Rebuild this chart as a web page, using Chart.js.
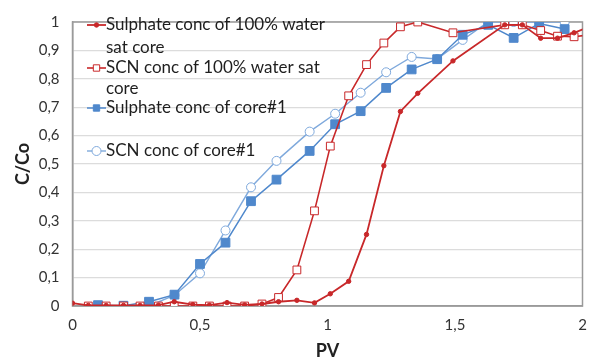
<!DOCTYPE html>
<html>
<head>
<meta charset="utf-8">
<script src="https://cdn.jsdelivr.net/npm/chart.js@4/dist/chart.umd.min.js"></script>
<style>
  html, body { margin: 0; padding: 0; background: #fff; }
  #wrap { width: 590px; height: 362px; }
</style>
</head>
<body>
<div id="wrap"><canvas id="chart" width="590" height="362"></canvas></div>
<script>
// PV values and C/Co readings
const pvSulphate100 = [0, 0.062, 0.132, 0.2, 0.265, 0.337, 0.399, 0.472, 0.537, 0.606, 0.675, 0.743, 0.808, 0.88, 0.949, 1.011, 1.083, 1.153, 1.221, 1.286, 1.354, 1.492, 1.695, 1.764, 1.836, 1.902, 1.967, 2.03];
const sulphate100 = [0.01, 0.002, 0.002, 0.002, 0.002, 0.003, 0.015, 0.005, 0.003, 0.012, 0.004, 0.007, 0.015, 0.02, 0.011, 0.043, 0.087, 0.252, 0.494, 0.685, 0.749, 0.863, 0.99, 0.99, 0.943, 0.943, 0.962, 0.985];

const pvScn100 = [0.062, 0.132, 0.2, 0.265, 0.337, 0.399, 0.472, 0.537, 0.606, 0.675, 0.743, 0.808, 0.88, 0.949, 1.011, 1.083, 1.153, 1.221, 1.286, 1.354, 1.492, 1.695, 1.764, 1.836, 1.902, 1.967, 2.03];
const scn100 = [0, 0, 0, 0, 0, 0, 0, 0, 0, 0, 0.007, 0.03, 0.127, 0.335, 0.563, 0.74, 0.85, 0.926, 0.983, 1.0, 0.962, 0.99, 0.99, 0.97, 0.95, 0.948, 0.955];

const pvCore1 = [0.1, 0.2, 0.3, 0.4, 0.5, 0.6, 0.7, 0.8, 0.93, 1.03, 1.13, 1.23, 1.33, 1.43, 1.53, 1.63, 1.73, 1.83, 1.93];
const sulphateCore1 = [0.003, 0.001, 0.015, 0.04, 0.148, 0.223, 0.369, 0.445, 0.546, 0.64, 0.686, 0.768, 0.833, 0.869, 0.955, 0.99, 0.944, 0.995, 0.975];
const scnCore1 = [0, 0, 0, 0.038, 0.115, 0.266, 0.418, 0.511, 0.614, 0.677, 0.751, 0.823, 0.877, 0.87, 0.937, 1.0, 1.0, 1.0, 1.0];

const seriesNames = [
  ['Sulphate conc of 100% water', 'sat core'],
  ['SCN conc of 100% water sat', 'core'],
  ['Sulphate conc of core#1'],
  ['SCN conc of core#1']
];

const xTicks = [0, 0.5, 1, 1.5, 2];
const yTicks = [0, 0.1, 0.2, 0.3, 0.4, 0.5, 0.6, 0.7, 0.8, 0.9, 1];

const RED = '#c8282a';
const BLUE = '#4f88cc';
const BLUE_LIGHT = '#7fa9dc';
const FONT = 'Lato, "Open Sans", sans-serif';

function pairs(xs, ys) {
  return xs.map((x, i) => ({ x: x, y: ys[i] }));
}

function comma(v) {
  return String(Number(v.toFixed(2))).replace('.', ',');
}

const datasetStyles = [
  { color: RED, pointStyle: 'circle', radius: 2.2, fill: RED, width: 1.8 },
  { color: RED, pointStyle: 'rect', radius: 5.5, fill: '#ffffff', width: 1.6 },
  { color: BLUE, pointStyle: 'rect', radius: 6.2, fill: BLUE, width: 1.5 },
  { color: BLUE_LIGHT, pointStyle: 'circle', radius: 4.5, fill: '#ffffff', width: 1.4 }
];

const allData = [
  pairs(pvSulphate100, sulphate100),
  pairs(pvScn100, scn100),
  pairs(pvCore1, sulphateCore1),
  pairs(pvCore1, scnCore1)
];

const frame = {
  id: 'frame',
  beforeDatasetsDraw(chart) {
    const a = chart.chartArea;
    const ctx = chart.ctx;
    ctx.save();
    ctx.strokeStyle = '#9a9a9a';
    ctx.lineWidth = 1.5;
    ctx.strokeRect(a.left, a.top, a.right - a.left, a.bottom - a.top);
    ctx.restore();
  }
};

function drawMarker(ctx, st, x, y) {
  ctx.fillStyle = st.fill;
  ctx.strokeStyle = st.color;
  ctx.lineWidth = 1;
  ctx.beginPath();
  if (st.pointStyle === 'rect') {
    const s = st.radius * Math.SQRT1_2;
    ctx.rect(x - s, y - s, 2 * s, 2 * s);
  } else {
    ctx.arc(x, y, st.radius, 0, Math.PI * 2);
  }
  ctx.fill();
  ctx.stroke();
}

const legendBox = {
  id: 'legendBox',
  afterDatasetsDraw(chart) {
    const ctx = chart.ctx;
    const rows = [[25, 48], [68, 89], [108], [151]];
    ctx.save();
    ctx.font = '17px ' + FONT;
    ctx.textBaseline = 'middle';
    seriesNames.forEach((lines, i) => {
      const st = datasetStyles[i];
      const y0 = rows[i][0];
      ctx.strokeStyle = st.color;
      ctx.lineWidth = st.width;
      ctx.beginPath();
      ctx.moveTo(87, y0);
      ctx.lineTo(106, y0);
      ctx.stroke();
      drawMarker(ctx, Object.assign({}, st, { radius: Math.min(st.radius, 4.5) }), 96.5, y0);
      ctx.fillStyle = '#1e1e1e';
      lines.forEach((t, j) => ctx.fillText(t, 106, rows[i][j]));
    });
    ctx.restore();
  }
};

new Chart(document.getElementById('chart'), {
  type: 'scatter',
  data: {
    datasets: allData.map((d, i) => ({
      label: seriesNames[i].join(' '),
      data: d,
      showLine: true,
      borderColor: datasetStyles[i].color,
      borderWidth: datasetStyles[i].width,
      pointStyle: datasetStyles[i].pointStyle,
      pointRadius: datasetStyles[i].radius,
      pointBackgroundColor: datasetStyles[i].fill,
      pointBorderColor: datasetStyles[i].color,
      pointBorderWidth: 1,
      tension: 0
    }))
  },
  options: {
    responsive: false,
    animation: false,
    layout: { padding: { top: 14, right: 7.5, left: 0, bottom: 0 } },
    plugins: {
      legend: { display: false },
      tooltip: { enabled: false }
    },
    scales: {
      x: {
        type: 'linear',
        min: 0,
        max: 2,
        afterBuildTicks: s => { s.ticks = xTicks.map(v => ({ value: v })); },
        afterFit: s => { s.height = 56; s.paddingLeft = 0; s.paddingRight = 0; },
        grid: { display: false, drawTicks: false },
        border: { color: '#9a9a9a', width: 1.5 },
        ticks: {
          padding: 10,
          color: '#333',
          font: { family: FONT, size: 15 },
          callback: v => comma(v)
        },
        title: {
          display: true,
          text: 'PV',
          color: '#222',
          font: { family: FONT, size: 18, weight: 'bold' },
          padding: { top: 0, bottom: 0 }
        }
      },
      y: {
        min: 0,
        max: 1,
        afterBuildTicks: s => { s.ticks = yTicks.map(v => ({ value: v })); },
        afterFit: s => { s.width = 72.5; },
        grid: { color: '#dcdcdc', lineWidth: 1.2, drawTicks: false },
        border: { color: '#9a9a9a', width: 1.5 },
        ticks: {
          padding: 13,
          color: '#333',
          font: { family: FONT, size: 15 },
          callback: v => comma(v)
        },
        title: {
          display: true,
          text: 'C/Co',
          color: '#222',
          font: { family: FONT, size: 18, weight: 'bold' },
          padding: { top: 12, bottom: 0 }
        }
      }
    }
  },
  plugins: [frame, legendBox]
});
</script>
</body>
</html>
